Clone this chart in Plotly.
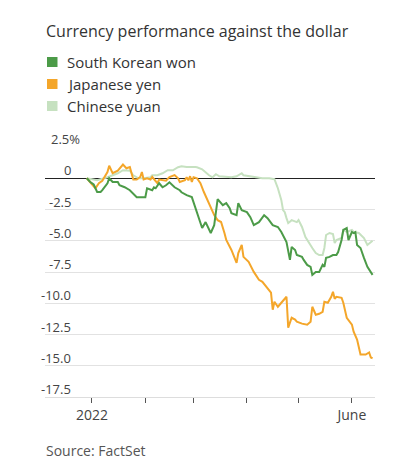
import plotly.graph_objects as go

# ---- Data (percent change vs. the dollar) ----
yen_dates = ["2021-12-29","2022-01-03","2022-01-05","2022-01-07","2022-01-10","2022-01-11","2022-01-13",
    "2022-01-16","2022-01-19","2022-01-21","2022-01-23","2022-01-25","2022-01-27","2022-01-29","2022-01-30",
    "2022-01-31","2022-02-02","2022-02-04","2022-02-05","2022-02-07","2022-02-08","2022-02-09","2022-02-13",
    "2022-02-15","2022-02-18","2022-02-20","2022-02-21","2022-02-24","2022-02-25","2022-02-26","2022-02-27",
    "2022-02-28","2022-03-01","2022-03-03","2022-03-05","2022-03-07","2022-03-09","2022-03-11","2022-03-13",
    "2022-03-15","2022-03-17","2022-03-19","2022-03-20","2022-03-23","2022-03-26","2022-03-27","2022-03-29",
    "2022-03-30","2022-04-02","2022-04-05","2022-04-08","2022-04-10","2022-04-13","2022-04-15","2022-04-16",
    "2022-04-17","2022-04-19","2022-04-21","2022-04-23","2022-04-24","2022-04-25","2022-04-27","2022-04-29",
    "2022-04-30","2022-05-03","2022-05-06","2022-05-08","2022-05-09","2022-05-11","2022-05-13","2022-05-15",
    "2022-05-16","2022-05-18","2022-05-20","2022-05-21","2022-05-22","2022-05-23","2022-05-26","2022-05-27",
    "2022-05-29","2022-06-01","2022-06-02","2022-06-04","2022-06-06","2022-06-09","2022-06-11","2022-06-12",
    "2022-06-13"]
yen_values = [0.0,-0.8,-0.4,-0.2,0.5,1.0,0.4,
    0.6,1.1,0.8,0.9,-0.1,-0.1,0.1,0.5,
    -0.1,0.0,-0.1,0.1,-0.3,-0.4,-0.1,-0.2,
    0.1,0.25,0.0,-0.3,-0.16,0.08,-0.16,0.16,
    -0.3,0.08,0.0,-0.4,-1.1,-1.75,-2.3,-2.95,
    -3.35,-3.5,-4.4,-4.94,-5.74,-6.77,-5.98,-5.34,
    -6.29,-6.69,-7.49,-8.13,-8.29,-8.76,-9.16,-10.52,
    -9.88,-10.28,-9.96,-9.56,-9.48,-11.95,-11.16,-11.31,
    -11.47,-11.63,-11.71,-11.47,-10.28,-10.92,-10.84,-10.68,
    -9.88,-9.96,-9.48,-9.08,-9.64,-9.48,-9.56,-9.96,
    -11.16,-11.71,-12.27,-12.91,-14.1,-14.1,-13.94,-14.34,
    -14.4]

won_dates = ["2021-12-29","2021-12-31","2022-01-02","2022-01-04","2022-01-06","2022-01-07","2022-01-10",
    "2022-01-11","2022-01-13","2022-01-16","2022-01-17","2022-01-20","2022-01-23","2022-01-25","2022-01-27",
    "2022-01-30","2022-02-01","2022-02-02","2022-02-05","2022-02-06","2022-02-07","2022-02-09","2022-02-11",
    "2022-02-13","2022-02-15","2022-02-18","2022-02-21","2022-02-22","2022-02-25","2022-02-28","2022-03-02",
    "2022-03-04","2022-03-06","2022-03-08","2022-03-11","2022-03-13","2022-03-14","2022-03-15","2022-03-18",
    "2022-03-20","2022-03-22","2022-03-23","2022-03-26","2022-03-27","2022-03-29","2022-04-01","2022-04-03",
    "2022-04-05","2022-04-08","2022-04-11","2022-04-13","2022-04-16","2022-04-19","2022-04-21","2022-04-24",
    "2022-04-26","2022-04-27","2022-04-29","2022-04-30","2022-05-03","2022-05-04","2022-05-06","2022-05-08",
    "2022-05-09","2022-05-11","2022-05-13","2022-05-15","2022-05-16","2022-05-17","2022-05-19","2022-05-21",
    "2022-05-23","2022-05-24","2022-05-26","2022-05-27","2022-05-29","2022-05-30","2022-06-01","2022-06-02",
    "2022-06-03","2022-06-04","2022-06-06","2022-06-08","2022-06-10","2022-06-13"]
won_values = [0.0,-0.3,-0.5,-1.1,-1.1,-0.95,-0.4,
    0.0,-0.3,-0.3,-0.56,-0.72,-0.96,-1.2,-1.51,
    -1.51,-1.51,-0.8,-0.96,-0.72,-0.8,-0.4,-0.72,
    -0.56,-0.32,-0.72,-0.96,-1.12,-1.35,-1.51,-2.31,
    -3.19,-3.98,-3.51,-4.38,-3.75,-2.79,-1.67,-2.15,
    -1.99,-2.39,-2.79,-2.95,-1.99,-2.55,-2.71,-3.11,
    -3.75,-3.51,-2.95,-3.19,-3.75,-3.9,-4.3,-5.1,
    -6.53,-5.5,-5.74,-6.14,-6.29,-6.53,-6.93,-7.09,
    -7.73,-7.49,-7.49,-6.93,-7.09,-6.37,-6.29,-6.14,
    -6.14,-5.9,-4.94,-4.14,-3.98,-4.94,-4.3,-4.38,
    -4.3,-5.34,-5.58,-6.37,-7.09,-7.73]

yuan_dates = ["2021-12-29","2022-01-04","2022-01-10","2022-01-16","2022-01-19","2022-01-23","2022-01-25",
    "2022-01-28","2022-01-31","2022-02-04","2022-02-05","2022-02-08","2022-02-11","2022-02-14","2022-02-17",
    "2022-02-20","2022-02-22","2022-02-25","2022-03-02","2022-03-03","2022-03-06","2022-03-08","2022-03-10",
    "2022-03-12","2022-03-14","2022-03-16","2022-03-20","2022-03-23","2022-03-26","2022-03-29","2022-03-30",
    "2022-04-02","2022-04-06","2022-04-10","2022-04-14","2022-04-17","2022-04-19","2022-04-21","2022-04-22",
    "2022-04-23","2022-04-24","2022-04-25","2022-04-27","2022-04-30","2022-05-01","2022-05-03","2022-05-05",
    "2022-05-07","2022-05-09","2022-05-11","2022-05-13","2022-05-15","2022-05-16","2022-05-17","2022-05-19",
    "2022-05-21","2022-05-22","2022-05-23","2022-05-26","2022-05-27","2022-05-29","2022-06-01","2022-06-02",
    "2022-06-05","2022-06-08","2022-06-10","2022-06-12","2022-06-13"]
yuan_values = [0.0,-0.15,0.08,0.4,0.64,0.6,0.24,
    0.0,0.0,0.08,0.24,0.24,0.4,0.64,0.64,
    0.88,0.96,0.9,0.9,0.88,0.72,0.48,0.24,
    0.08,0.32,0.16,0.08,0.08,0.16,0.4,0.24,
    0.16,0.08,0.0,0.0,-0.08,-0.8,-1.75,-2.55,
    -2.71,-3.19,-3.59,-3.35,-3.51,-3.35,-3.9,-4.7,
    -5.18,-5.58,-5.98,-6.14,-6.14,-5.58,-4.54,-4.38,
    -4.46,-5.18,-4.94,-4.78,-4.14,-4.3,-4.14,-4.3,
    -4.38,-4.78,-5.34,-5.1,-5.0]

series_names = ["South Korean won", "Japanese yen", "Chinese yuan"]
series_colors = ["#4c9b48", "#f4a62a", "#c6e1c0"]

y_tick_vals = [2.5, 0, -2.5, -5.0, -7.5, -10.0, -12.5, -15.0, -17.5]
y_tick_text = ["2.5%", "0", "-2.5", "-5.0", "-7.5", "-10.0", "-12.5", "-15.0", "-17.5"]
x_tick_vals = ["2022-01-01", "2022-02-01", "2022-03-01", "2022-04-01", "2022-05-01", "2022-06-01"]
x_tick_text = ["2022", "", "", "", "", "June"]

title_text = "Currency performance against the dollar"
source_text = "Source: FactSet"

# ---- Layout geometry (page pixels; page has an 8px body margin) ----
OFF = 8
PAGE_W, PAGE_H = 395, 472
PL, PR, PT, PB = 45, 375, 147, 397          # plot box in page pixels
W, H = PAGE_W - OFF, PAGE_H - OFF
L, R, T, B = PL - OFF, PAGE_W - PR, PT - OFF, PAGE_H - PB
PW, PH = PR - PL, PB - PT

def px_x(p):
    return (p - PL) / PW

def px_y(p):
    return (PB - p) / PH

FONT = "Open Sans"

fig = go.Figure()
order = [(yuan_dates, yuan_values, 2), (yen_dates, yen_values, 1), (won_dates, won_values, 0)]
for d, v, i in order:
    fig.add_trace(go.Scatter(x=d, y=v, mode="lines", name=series_names[i],
                             line=dict(color=series_colors[i], width=2), showlegend=False,
                             hoverinfo="skip"))

annotations = []
shapes = []
for val, txt in zip(y_tick_vals, y_tick_text):
    right = 82 if txt.endswith("%") else 73
    annotations.append(dict(xref="paper", yref="y", x=px_x(right), y=val, text=txt,
                            showarrow=False, xanchor="right", yanchor="bottom", yshift=-3,
                            font=dict(family=FONT, size=13, color="#444")))

annotations.append(dict(xref="paper", yref="paper", x=px_x(44), y=px_y(31), text=title_text,
                        showarrow=False, xanchor="left", yanchor="middle",
                        font=dict(family=FONT, size=16, color="#333")))
legend_rows = [62, 84, 106]
for i, cy in enumerate(legend_rows):
    shapes.append(dict(type="rect", xref="paper", yref="paper",
                       x0=px_x(47), x1=px_x(57.5), y0=px_y(cy - 5), y1=px_y(cy + 5),
                       fillcolor=series_colors[i], line=dict(width=0)))
    annotations.append(dict(xref="paper", yref="paper", x=px_x(65), y=px_y(cy), text=series_names[i],
                            showarrow=False, xanchor="left", yanchor="middle",
                            font=dict(family=FONT, size=15, color="#333")))
annotations.append(dict(xref="paper", yref="paper", x=px_x(44), y=px_y(450), text=source_text,
                        showarrow=False, xanchor="left", yanchor="middle",
                        font=dict(family=FONT, size=14, color="#555")))

fig.update_layout(
    width=W, height=H,
    margin=dict(l=L, r=R, t=T, b=B, pad=0),
    paper_bgcolor="white", plot_bgcolor="white",
    annotations=annotations, shapes=shapes,
    xaxis=dict(type="date", range=["2021-12-04 17:00", "2022-06-14 10:00"],
               tickvals=x_tick_vals, ticktext=x_tick_text, ticks="outside", ticklen=5,
               tickcolor="#555", tickwidth=1, showgrid=False, zeroline=False,
               showline=True, linecolor="#ddd", linewidth=1,
               tickfont=dict(family=FONT, size=14, color="#444"), fixedrange=True),
    yaxis=dict(range=[-17.5, 2.5], tickvals=y_tick_vals, showticklabels=False,
               showgrid=True, gridcolor="#e2e2e2", gridwidth=1,
               zeroline=True, zerolinecolor="#222", zerolinewidth=1,
               showline=False, fixedrange=True),
    showlegend=False,
)

fig.write_html("out.html")
